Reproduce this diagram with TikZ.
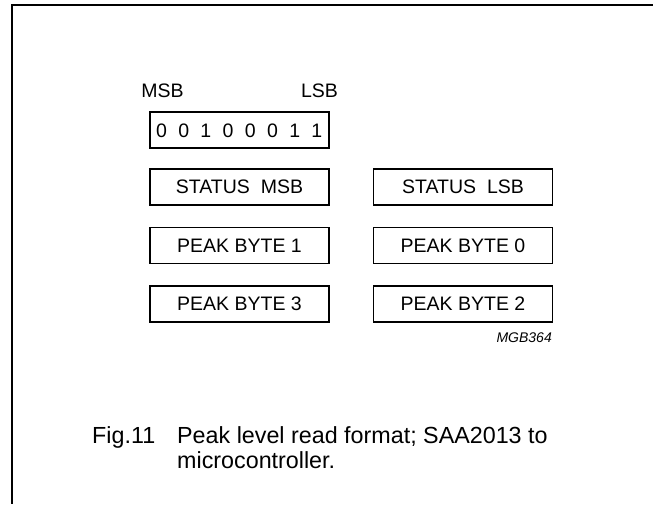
\documentclass[tikz,border=0pt]{standalone}
\usepackage{fontspec}
\setmainfont{Liberation Sans}
\usetikzlibrary{positioning}

\tikzset{
  regbox/.style={draw, line width=1.8pt, minimum width=179pt, minimum height=36pt, inner sep=0pt, font=\fontsize{19.5}{22}\selectfont},
  bitlabel/.style={anchor=base, inner sep=0pt, font=\fontsize{19.5}{22}\selectfont},
  captext/.style={anchor=base west, inner sep=0pt, font=\fontsize{23.3}{27}\selectfont}
}

\begin{document}
\begin{tikzpicture}[x=1pt,y=-1pt]
  \useasboundingbox (0,0) rectangle (653,504);
  % frame
  \draw[line width=1.8pt] (653,5) -- (12,5) -- (12,504);

  % bit pattern
  \node[bitlabel] (msb) at (162.5,97) {MSB};
  \node[bitlabel] (lsb) at (319.5,97) {LSB};
  \node[regbox] (bits) at (239.5,130) {};
  \foreach \b [count=\i from 0] in {0,0,1,0,0,0,1,1}
    \node[bitlabel] (b\i) at (161.5+22.2*\i,137) {\b};

  % registers
  \node[regbox] (statmsb) at (239.5,187) {STATUS\ \ MSB};
  \node[regbox] (statlsb) at (463,187) {STATUS\ \ LSB};
  \node[regbox] (peakone) at (239.5,245.5) {PEAK BYTE 1};
  \node[regbox] (peakzero) at (463,245.5) {PEAK BYTE 0};
  \node[regbox] (peakthree) at (239.5,304) {PEAK BYTE 3};
  \node[regbox] (peaktwo) at (463,304) {PEAK BYTE 2};
  \node[anchor=base east, inner sep=0pt, font=\fontsize{14}{16}\selectfont\itshape] (code) at (552,342) {MGB364};

  % caption
  \node[captext] (fignum) at (92,443) {Fig.11};
  \node[captext] (capone) at (177,443) {Peak level read format; SAA2013 to};
  \node[captext] (captwo) at (177,468) {microcontroller.};
\end{tikzpicture}
\end{document}
